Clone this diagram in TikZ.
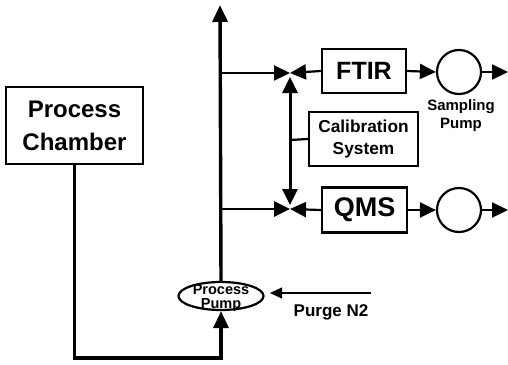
\documentclass[tikz,border=0pt]{standalone}
\usepackage{fontspec}
\setmainfont{Liberation Sans}
\usetikzlibrary{arrows.meta,shapes.geometric}

\begin{document}
\begin{tikzpicture}[x=1pt,y=-1pt,
box/.style={draw,line width=2.4pt,inner sep=0pt,align=center,font=\bfseries},
pump/.style={draw,line width=2.2pt,inner sep=0pt},
pipe/.style={line width=3.4pt},
flow/.style={-{Triangle[length=16pt,width=15pt]},line width=2.2pt},
thinflow/.style={-{Triangle[length=12pt,width=11pt]},line width=1.4pt},
lbl/.style={font=\bfseries,align=center,inner sep=0pt} ]

\useasboundingbox (0,0) rectangle (508,364);

\node[box,minimum width=137pt,minimum height=77pt,font=\bfseries\fontsize{24}{33}\selectfont](chamber) at (74.5,125.5) {Process\\Chamber};

\node[pump,ellipse,minimum width=85pt,minimum height=28pt](pp) at (221,296) {};
\node[lbl,font=\bfseries\fontsize{14.5}{13.5}\selectfont](pplabel) at (221,298) {Process\\Pump};

\node[box,minimum width=84pt,minimum height=44pt,font=\bfseries\fontsize{25}{30}\selectfont](ftir) at (364,71) {FTIR};
\node[box,minimum width=85pt,minimum height=45pt,font=\bfseries\fontsize{27}{30}\selectfont](qms) at (364.5,210) {QMS};
\node[box,minimum width=109pt,minimum height=54pt,font=\bfseries\fontsize{17.3}{22}\selectfont](cal) at (363.5,139) {Calibration\\System};

\node[pump,circle,minimum size=44pt](sa) at (459,72) {};
\node[pump,circle,minimum size=44pt](sb) at (459,210) {};
\node[lbl,font=\bfseries\fontsize{15}{18}\selectfont](splabel) at (461,116) {Sampling\\Pump};
\node[lbl,font=\bfseries\fontsize{17}{18}\selectfont](purge) at (331,312) {Purge N2};

\coordinate (top) at (220,5);
\coordinate (low) at (150,358);
\coordinate (ja) at (290,73);
\coordinate (jb) at (290,209);
\coordinate (ta) at (220,73);
\coordinate (tb) at (220,209);
\coordinate (calin) at (290,140);
\coordinate (outa) at (508,72);
\coordinate (outb) at (508,210);
\coordinate (n2) at (371,293);
\coordinate (n2end) at (270,293);

% exhaust line
\draw[pipe,-{Triangle[length=17pt,width=15pt]}] (chamber.south) |- (low) -| (pp.south);
\draw[pipe,-{Triangle[length=17pt,width=15pt]}] (pp.north) -- (top);

% sampling branches
\draw[flow] (ta) -- (ja);
\draw[flow,line width=2.8pt] (tb) -- (jb);
\draw[flow] (ftir.west) -- (ja);
\draw[flow] (qms.west) -- (jb);
\draw[{Triangle[length=16pt,width=15pt]}-{Triangle[length=16pt,width=15pt]},line width=3pt,shorten <=4pt,shorten >=4pt] (ja) -- (jb);
\draw[line width=2.2pt] (calin) -- (cal.west);

\draw[flow] (ftir.east) -- (sa.west);
\draw[flow] (qms.east) -- (sb.west);
\draw[flow] (sa.east) -- (outa);
\draw[flow] (sb.east) -- (outb);

% purge gas
\draw[thinflow] (n2) -- (n2end);

\end{tikzpicture}
\end{document}
